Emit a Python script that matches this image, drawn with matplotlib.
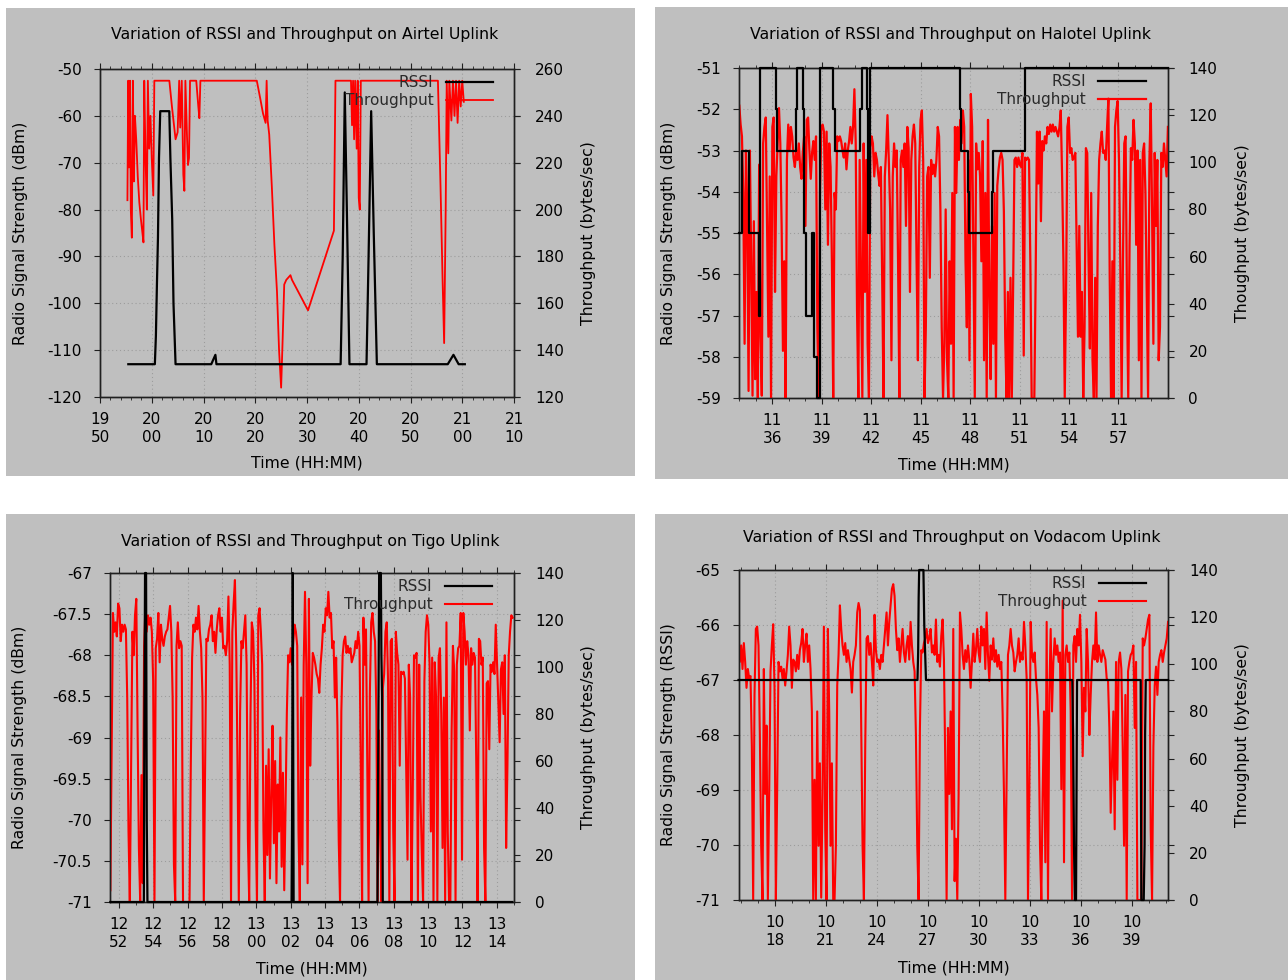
import numpy as np
import matplotlib
matplotlib.use('Agg')
import matplotlib.pyplot as plt
from matplotlib.ticker import MultipleLocator, FuncFormatter
from matplotlib.patches import Rectangle

# ---------------- Airtel (minutes after 19:50) ----------------
airtel_t0 = 19 * 60 + 50
airtel_rssi_t = [5.47, 10.6, 10.8, 11.0, 11.2, 11.4, 11.64, 13.39, 13.6, 13.95, 14.2, 14.6,
                 21.5, 22.3, 22.5, 46.5, 46.9, 47.3, 47.7, 48.2, 51.5, 51.9, 52.4, 52.9, 53.5,
                 67.2, 68.3, 69.3, 70.5]
airtel_rssi = [-113, -113, -107, -96, -86, -69, -59, -59, -69, -82, -100, -113,
               -113, -111, -113, -113, -90, -55, -80, -113, -113, -90, -59, -85, -113,
               -113, -111, -113, -113]
airtel_thr_t = [5.3, 5.45, 5.6, 5.8, 5.95, 6.15, 6.35, 6.55, 6.75, 7.0,
                7.3, 7.6, 7.9, 8.2, 8.4, 8.55, 8.8, 9.05, 9.25, 9.5,
                9.75, 10.0, 10.3, 10.5, 13.4, 13.9, 14.3, 14.6, 15.0, 15.3,
                15.5, 15.8, 16.1, 16.3, 16.5, 16.8, 17.0, 17.2, 17.4, 18.6,
                19.0, 19.2, 19.4, 30.3, 31.0, 31.5, 32.0, 32.2, 32.4, 32.7,
                33.2, 33.7, 34.2, 34.6, 35.0, 35.3, 35.6, 36.0, 36.8, 37.1,
                40.2, 45.2, 45.5, 48.5, 48.7, 48.9, 49.1, 49.3, 49.6, 49.8,
                50.0, 50.2, 50.4, 65.3, 65.6, 65.8, 66.0, 66.2, 66.5, 66.8,
                67.0, 67.3, 67.5, 67.9, 68.2, 68.5, 68.8, 69.1, 69.4, 69.7,
                70.0, 70.3]
airtel_thr = [204, 255, 218, 255, 200, 188, 255, 212, 240, 230,
              214, 203, 196, 190, 186, 255, 222, 200, 255, 226,
              240, 222, 206, 255, 255, 244, 236, 230, 233, 255,
              235, 255, 215, 208, 255, 232, 219, 222, 255, 255,
              244, 239, 255, 255, 247, 241, 237, 255, 238, 232,
              210, 185, 165, 140, 124, 145, 168, 170, 172, 170,
              157, 191, 255, 255, 236, 255, 230, 255, 226, 255,
              205, 200, 255, 255, 228, 210, 190, 170, 143, 200,
              255, 224, 255, 238, 255, 240, 255, 237, 255, 244,
              255, 246]

# ---------------- Halotel (minutes after 11:34) ----------------
halotel_t0 = 11 * 60 + 34
halotel_rssi_t = [0, 0.18, 0.6, 1.2, 1.27, 2.2, 2.3, 3.42, 3.5, 3.85, 3.92, 4.02, 4.42, 4.55,
                  4.7, 4.87, 5.68, 5.8, 7.33, 7.42, 7.74, 7.82, 7.95, 13.4, 13.45, 13.85,
                  13.95, 15.3, 15.38, 17.3, 26]
halotel_rssi = [-55, -53, -55, -57, -51, -52, -53, -52, -51, -52, -55, -57, -55, -58,
                -59, -51, -52, -53, -52, -51, -52, -55, -51, -52, -53, -54,
                -55, -54, -53, -51, -51]
halotel_thr = [
    124, 116, 111, 87, 23, 105, 80, 3, 105, 58, 1, 75, 8, 45, 0, 99, 26, 1, 108, 115,
    119, 73, 26, 94, 0, 115, 119, 45, 94, 108, 123, 108, 73, 20, 58, 0, 101, 116, 105, 115,
    111, 102, 98, 105, 101, 108, 98, 93, 104, 111, 73, 118, 119, 105, 93, 104, 109, 101, 111, 30,
    0, 87, 115, 116, 113, 80, 113, 65, 108, 98, 58, 0, 87, 80, 111, 109, 111, 109, 105, 102,
    108, 97, 105, 109, 115, 108, 115, 131, 108, 37, 0, 101, 51, 0, 108, 45, 101, 23, 0, 106,
    111, 108, 94, 104, 101, 95, 90, 98, 51, 0, 94, 105, 120, 101, 80, 16, 94, 108, 98, 105,
    58, 0, 101, 105, 98, 108, 73, 115, 106, 45, 101, 111, 116, 108, 58, 16, 98, 118, 122, 101,
    0, 30, 94, 98, 51, 101, 95, 99, 94, 101, 115, 111, 80, 30, 0, 23, 80, 16, 0, 58,
    23, 87, 0, 115, 87,
    115, 101, 118, 108, 122, 115, 58, 30, 101, 16, 129, 115, 58, 0, 108, 97, 104, 94, 58, 109,
    16, 87, 0, 118, 45, 8, 73, 23, 87, 0, 90, 97, 102, 104, 101, 79, 26, 0, 45, 0,
    51, 0, 48, 101, 102, 98, 102, 99, 98, 104, 18, 102, 101, 102, 101, 58, 0, 0, 0, 51,
    113, 91, 113, 75, 109, 105, 111, 108, 115, 112, 116, 113, 116, 113, 115, 113, 111, 115, 122, 94,
    58, 0, 45, 115, 119, 104, 106, 101, 102, 104, 65, 26, 73, 26, 45, 0, 30, 106, 104, 58,
    21, 87, 16, 0, 51, 0, 73, 101, 108, 113, 104, 105, 101, 115, 127, 51, 0, 58, 0, 115,
    122, 126, 101, 58, 0, 58, 108, 111, 45, 0, 65, 106, 101, 118, 108, 65, 105, 16, 101, 0,
    104, 108, 87, 45, 0, 101, 125, 80, 23, 104, 73, 101, 16, 30, 104, 98, 108, 101, 94, 115]

# ---------------- Tigo (minutes after 12:52) ----------------
tigo_t0 = 12 * 60 + 52
tigo_rssi_t = [-0.5, 1.45, 1.48, 1.52, 1.58, 1.62, 1.66, 10.05, 10.08, 10.12, 10.17,
               15.05, 15.1, 15.15, 15.25, 15.28, 15.32, 15.36, 22.9]
tigo_rssi = [-71, -71, -69, -67, -67, -70, -71, -71, -70, -67, -71,
             -71, -69, -67, -67, -68, -68.5, -71, -71]
tigo_thr = [
    5, 65, 123, 115, 119, 113, 127, 125, 111, 118, 115, 118, 116, 87, 30, 0, 58, 115, 105, 122,
    129, 73, 23, 0, 54, 8, 109, 125, 115, 122, 118, 121, 115, 94, 0, 108, 112, 123, 102, 118,
    112, 109, 113, 115, 116, 121, 126, 115, 87, 16, 0, 109, 119, 108, 111, 109, 0, 0, 0, 0,
    0, 0, 58, 104, 118, 115, 121, 116, 126, 115, 108, 87, 0, 58, 112, 111, 116, 118, 122, 111,
    115, 106, 116, 122, 125, 115, 121, 108, 109, 105, 111, 130, 101, 0, 115, 127, 137, 108, 58, 0,
    81, 111, 108, 115, 122, 101, 27, 0, 80, 119, 115, 94, 33, 0, 122, 125, 115, 101, 30, 0,
    58, 20, 65, 10, 45, 75, 25, 60, 8, 50, 30, 70, 15, 55, 5, 40, 80, 105, 102, 108,
    101, 111, 118, 115, 109, 30, 0, 87, 16, 101, 132, 101, 8, 129, 58, 87, 106, 104, 101, 97,
    95, 89, 101, 108, 118, 115, 125, 122, 132, 121, 123, 108, 111, 87, 104, 75, 26, 0, 81, 105,
    111, 113, 106, 109, 106, 108, 102, 104, 106, 111, 108, 115, 109, 58, 0, 121, 101, 116, 58, 0,
    89, 119, 123, 115, 111, 81, 0, 73, 30, 0, 91, 97, 115, 119, 94, 0, 111, 112, 30, 0,
    115, 106, 101, 58, 98, 97, 98, 95, 58, 18, 101, 87, 0, 45, 105, 104, 106, 0, 101, 45,
    21, 0, 94, 115, 122, 118, 101, 30, 104, 0, 102, 87, 0, 104, 108, 80, 23, 87, 0, 119,
    30, 0, 0, 73, 109, 98, 0, 101, 108, 109, 123, 18, 123, 115, 101, 111, 105, 73, 108, 101,
    106, 104, 58, 0, 112, 111, 101, 104, 23, 0, 93, 94, 65, 101, 98, 102, 97, 118, 101, 84,
    68, 99, 102, 80, 105, 23, 58, 105, 115, 122, 121]

# ---------------- Vodacom (minutes after 10:18) ----------------
vodacom_t0 = 10 * 60 + 18
vodacom_rssi_t = [-2.12, 8.4, 8.44, 8.47, 8.5, 8.75, 8.8, 8.85, 8.9, 17.5, 17.55, 17.6,
                  17.65, 17.72, 17.78, 21.52, 21.56, 21.7, 21.75, 21.78, 21.82, 23.13]
vodacom_rssi = [-67, -67, -66.5, -65.5, -65, -65, -66, -66.5, -67, -67, -68, -70,
                -71, -71, -67, -67, -71, -71, -70, -68, -67, -67]
vodacom_thr = [
    113, 101, 108, 98, 109, 101, 90, 98, 94, 95, 65, 0, 87, 115, 116, 108, 70, 23, 0, 98,
    45, 74, 0, 45, 97, 108, 117, 90, 0, 47, 101, 97, 99, 94, 98, 91, 97, 104, 116, 108,
    90, 102, 101, 97, 104, 98, 106, 109, 115, 101, 108, 113, 101, 108, 98, 80, 0, 51, 0, 80,
    23, 58, 1, 45, 116, 30, 0, 115, 80, 23, 58, 0, 0, 23, 91, 104, 125, 115, 108, 104,
    109, 101, 106, 102, 98, 88, 101, 104, 108, 122, 126, 123, 73, 23, 0, 65, 111, 112, 104, 109,
    101, 91, 121, 106, 101, 102, 98, 104, 101, 108, 115, 122, 108, 118, 125, 132, 134, 129, 115, 106,
    111, 101, 108, 115, 105, 101, 108, 112, 102, 118, 108, 101, 97, 70, 23, 0, 73, 106, 105, 109,
    111, 115, 109, 111, 115, 105, 108, 104, 119, 101, 104, 99, 112, 119, 102, 58, 0, 73, 45, 80,
    30,
    115, 8, 26, 0, 45, 122, 115, 104, 98, 106, 101, 108, 102, 90, 101, 113, 101, 106, 115, 105,
    101, 116, 108, 115, 98, 122, 104, 93, 108, 102, 111, 101, 106, 99, 104, 98, 101, 79, 45, 0,
    54, 104, 108, 115, 108, 105, 97, 101, 104, 111, 101, 105, 102, 118, 108, 94, 0, 45, 118, 104,
    101, 105, 94, 87, 73, 23, 0, 45, 80, 16, 118, 0, 87, 115, 80, 101, 111, 104, 108, 101,
    105, 47, 127, 16, 104, 108, 101, 105, 80, 0, 108, 112, 101, 115, 108, 121, 101, 61, 90, 80,
    115, 101, 70, 87, 101, 108, 102, 122, 101, 108, 104, 101, 106, 104, 102, 94, 93, 73, 37, 58,
    80, 30, 101, 51, 101, 105, 98, 65, 23, 87, 0, 97, 101, 104, 105, 108, 73, 101, 0, 0,
    0, 0, 111, 108, 111, 115, 119, 121, 30, 0, 65, 91, 99, 87, 101, 104, 106, 101, 105, 108,
    111, 118]

GRAY = '#bfbfbf'
W, H = 1288.0, 980.0
FS = 11


def hhmm(x, pos):
    m = int(round(x))
    return '%d\n%02d' % (m // 60, m % 60)


def panel(fig, bg, area, title, ylab, y2lab, rssi_t, rssi, thr_t, thr, xlim, xmaj, xmin,
          ylim, ystep, y2lim, y2step, title_xy, ylab_x, y2lab_x, xlab_y, leg_x,
          steps=False, red_lw=1.4):
    x0, y0, x1, y1 = bg
    fig.add_artist(Rectangle((x0 / W, 1 - y1 / H), (x1 - x0) / W, (y1 - y0) / H,
                             transform=fig.transFigure, facecolor=GRAY, edgecolor='none', zorder=0))
    a0, b0, a1, b1 = area
    ax = fig.add_axes([a0 / W, 1 - b1 / H, (a1 - a0) / W, (b1 - b0) / H])
    ax.set_facecolor(GRAY)
    ax2 = ax.twinx()

    ax.set_xlim(*xlim)
    ax.set_ylim(*ylim)
    ax2.set_ylim(*y2lim)
    ax.xaxis.set_major_locator(MultipleLocator(xmaj))
    ax.xaxis.set_minor_locator(MultipleLocator(xmin))
    ax.xaxis.set_major_formatter(FuncFormatter(hhmm))
    ax.yaxis.set_major_locator(MultipleLocator(ystep))
    ax.yaxis.set_major_formatter(FuncFormatter(lambda v, p: '%g' % v))
    ax2.yaxis.set_major_locator(MultipleLocator(y2step))

    ax.grid(True, which='major', linestyle=(0, (1, 2.5)), color='#9c9c9c', lw=0.8)
    ax.tick_params(axis='both', which='both', direction='out', labelsize=FS,
                   top=True, right=True, colors='#202020', labelcolor='black')
    ax.tick_params(axis='x', which='major', length=4, pad=7)
    ax.tick_params(axis='x', which='minor', length=2.5)
    ax.tick_params(axis='y', which='major', length=4, pad=9)
    ax2.tick_params(axis='y', direction='out', length=4, pad=11, labelsize=FS,
                    colors='#202020', labelcolor='black')
    for a in (ax, ax2):
        for s in a.spines.values():
            s.set_color('#202020')
            s.set_linewidth(1.0)

    lt, = ax2.plot(thr_t, thr, color='#ff0000', lw=red_lw, zorder=2, label='Throughput')
    lr, = ax2.plot(rssi_t, rssi, color='black', lw=1.6, zorder=3, clip_on=False,
                   transform=ax.transData, drawstyle='steps-post' if steps else 'default',
                   label='RSSI')

    ax.set_title(title, fontsize=11.3, x=title_xy[0], y=title_xy[1], va='center', pad=0)
    ax.set_ylabel(ylab, fontsize=11.3, va='center')
    ax.yaxis.set_label_coords(ylab_x, 0.5)
    ax2.set_ylabel(y2lab, fontsize=11.3, va='center', rotation=90)
    ax2.yaxis.set_label_coords(y2lab_x, 0.5)
    ax.set_xlabel('Time (HH:MM)', fontsize=11.3, va='center')
    ax.xaxis.set_label_coords(0.5, xlab_y)

    leg = ax2.legend([lr, lt], ['RSSI', 'Throughput'], loc='upper right',
                     bbox_to_anchor=(leg_x, 0.982), markerfirst=False, frameon=False,
                     fontsize=FS, handlelength=3.1, handletextpad=0.8, labelspacing=0.22,
                     borderpad=0, borderaxespad=0)
    for txt in leg.get_texts():
        txt.set_color('#2a2a2a')
    return ax, ax2


fig = plt.figure(figsize=(12.88, 9.8), dpi=100, facecolor='white')

panel(fig, (6, 8, 635, 476), (100, 69, 514, 397),
      'Variation of RSSI and Throughput on Airtel Uplink',
      'Radio Signal Strength (dBm)', 'Throughput (bytes/sec)',
      airtel_t0 + np.array(airtel_rssi_t), airtel_rssi,
      airtel_t0 + np.array(airtel_thr_t), airtel_thr,
      (airtel_t0, airtel_t0 + 80), 10, 2, (-120, -50), 10, (120, 260), 20,
      (0.494, 1.104), -0.192, 1.181, -0.201, 0.949, red_lw=1.3)

panel(fig, (655, 7, 1288, 479), (739.3, 68, 1167.6, 398),
      'Variation of RSSI and Throughput on Halotel Uplink',
      'Radio Signal Strength (dBm)', 'Thoughput (bytes/sec)',
      halotel_t0 + np.array(halotel_rssi_t), halotel_rssi,
      np.linspace(halotel_t0, halotel_t0 + 26, len(halotel_thr)), halotel_thr,
      (halotel_t0, halotel_t0 + 25.98), 3, 1, (-59, -51), 1, (0, 140), 20,
      (0.492, 1.10), -0.165, 1.176, -0.203, 0.949, steps=True, red_lw=1.6)

panel(fig, (6, 514, 635, 980), (110, 573, 514, 902),
      'Variation of RSSI and Throughput on Tigo Uplink',
      'Radio Signal Strength (dBm)', 'Throughput (bytes/sec)',
      tigo_t0 + np.array(tigo_rssi_t), tigo_rssi,
      np.linspace(tigo_t0 - 0.5, tigo_t0 + 22.92, len(tigo_thr)), tigo_thr,
      (tigo_t0 - 0.52, tigo_t0 + 23.0), 2, 1, (-71, -67), 0.5, (0, 140), 20,
      (0.495, 1.095), -0.2235, 1.184, -0.204, 0.946, red_lw=1.5)

panel(fig, (655, 514, 1288, 980), (738.5, 570, 1168.4, 900),
      'Variation of RSSI and Throughput on Vodacom Uplink',
      'Radio Signal Strength (RSSI)', 'Throughput (bytes/sec)',
      vodacom_t0 + np.array(vodacom_rssi_t), vodacom_rssi,
      np.linspace(vodacom_t0 - 2.12, vodacom_t0 + 23.13, len(vodacom_thr)), vodacom_thr,
      (vodacom_t0 - 2.12, vodacom_t0 + 23.15), 3, 1, (-71, -65), 1, (0, 140), 20,
      (0.495, 1.099), -0.163, 1.173, -0.207, 0.948, red_lw=1.5)

fig.savefig('out.png', dpi=100, facecolor='white')
